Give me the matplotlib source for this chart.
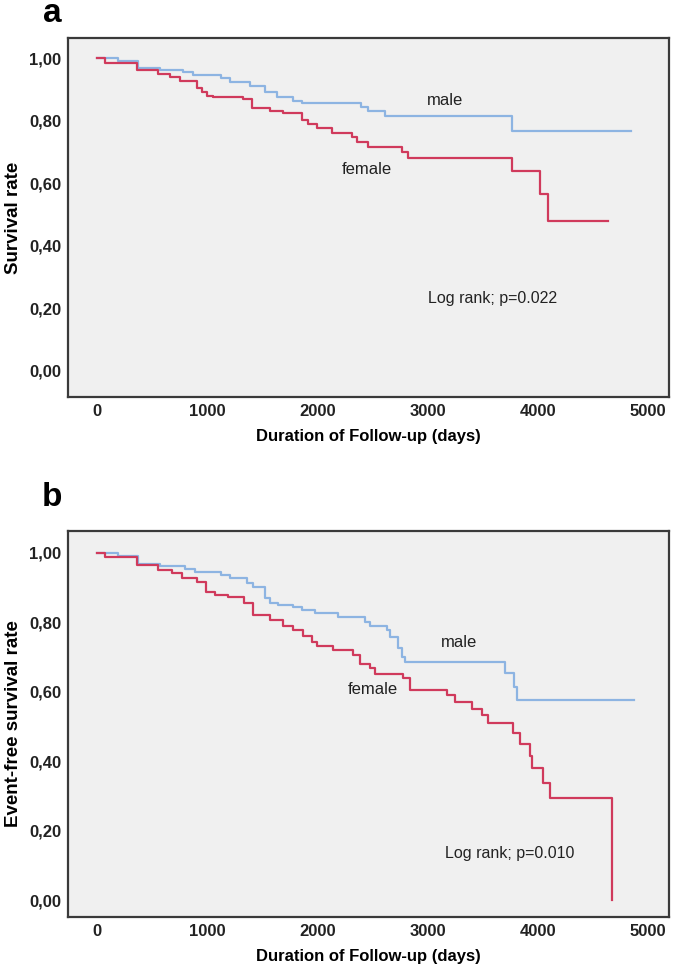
"""Kaplan-Meier curves by sex: overall (a) and event-free (b) survival"""

import matplotlib

matplotlib.use("Agg")
import matplotlib.pyplot as plt

plt.rcParams["font.family"] = ["Liberation Sans", "DejaVu Sans"]

# <><><><><><><><><><><><><><><><><><><><><><><><><><><><><><><><><><><><><><><>
# Data (days, survival fraction)

# Panel a - overall survival
male_a_days = [0, 190, 375, 570, 780, 875, 1130, 1205, 1390, 1525, 1630,
               1780, 1860, 2400, 2460, 2610, 3770, 4850]
male_a_surv = [1.0, 0.991, 0.968, 0.962, 0.955, 0.946, 0.935, 0.922, 0.91,
               0.893, 0.876, 0.862, 0.857, 0.845, 0.831, 0.815, 0.767, 0.767]

female_a_days = [0, 72, 360, 556, 662, 753, 905, 950, 995, 1056, 1328, 1404,
                 1570, 1691, 1857, 1918, 1994, 2130, 2311, 2357, 2462, 2765,
                 2825, 3763, 4020, 4096, 4640]
female_a_surv = [1.0, 0.985, 0.962, 0.949, 0.94, 0.927, 0.905, 0.891, 0.88,
                 0.876, 0.869, 0.841, 0.832, 0.823, 0.802, 0.789, 0.776,
                 0.762, 0.748, 0.733, 0.715, 0.701, 0.68, 0.639, 0.565, 0.48,
                 0.48]

# Panel b - event-free survival
male_b_days = [0, 190, 375, 570, 800, 890, 1130, 1205, 1360, 1420, 1525,
               1570, 1645, 1780, 1860, 1980, 2190, 2430, 2480, 2630, 2660,
               2735, 2765, 2795, 3700, 3780, 3815, 4870]
male_b_surv = [1.0, 0.99, 0.967, 0.962, 0.954, 0.946, 0.937, 0.928, 0.914,
               0.901, 0.87, 0.856, 0.851, 0.844, 0.836, 0.826, 0.816, 0.802,
               0.79, 0.778, 0.759, 0.725, 0.701, 0.687, 0.653, 0.615, 0.576,
               0.576]

female_b_days = [0, 72, 360, 556, 680, 768, 905, 990, 1070, 1190, 1330,
                 1420, 1570, 1690, 1780, 1870, 1950, 2000, 2140, 2327, 2387,
                 2477, 2523, 2780, 2840, 3173, 3249, 3400, 3491, 3551, 3778,
                 3838, 3929, 3944, 4050, 4111, 4670]
female_b_surv = [1.0, 0.988, 0.965, 0.95, 0.943, 0.929, 0.916, 0.886, 0.879,
                 0.873, 0.856, 0.82, 0.806, 0.79, 0.778, 0.761, 0.744, 0.732,
                 0.72, 0.706, 0.679, 0.668, 0.651, 0.639, 0.605, 0.591, 0.569,
                 0.55, 0.533, 0.511, 0.482, 0.45, 0.415, 0.38, 0.338, 0.293,
                 0.0]

x_ticks = [0, 1000, 2000, 3000, 4000, 5000]
y_ticks = [0.0, 0.2, 0.4, 0.6, 0.8, 1.0]
y_tick_labels = ["0,00", "0,20", "0,40", "0,60", "0,80", "1,00"]

# <><><><><><><><><><><><><><><><><><><><><><><><><><><><><><><><><><><><><><><>

blue = "#8db4e2"
red = "#d03a5c"

fig = plt.figure(figsize=(6.77, 9.77), dpi=100)
ax_a = fig.add_axes([0.1004, 0.5937, 0.8877, 0.3674])
ax_b = fig.add_axes([0.1004, 0.0614, 0.8877, 0.3951])


def style_axes(ax, ylim, ylabel):
    ax.set_facecolor("#f0f0f0")
    ax.set_xlim(-263, 5190)
    ax.set_ylim(*ylim)
    ax.set_xticks(x_ticks)
    ax.set_xticklabels([str(t) for t in x_ticks], fontweight="bold")
    ax.set_yticks(y_ticks)
    ax.set_yticklabels(y_tick_labels, fontweight="bold")
    ax.tick_params(length=0, labelsize=12, pad=5, colors="#222222")
    for s in ax.spines.values():
        s.set_color("#3a3a3a")
        s.set_linewidth(1.6)
    ax.set_xlabel("Duration of Follow-up (days)", fontsize=12,
                  fontweight="bold", labelpad=7)
    ax.set_ylabel(ylabel, fontsize=13.5, fontweight="bold", labelpad=5)


# Panel a
ax_a.step(male_a_days, male_a_surv, where="post", color=blue, lw=1.6)
ax_a.step(female_a_days, female_a_surv, where="post", color=red, lw=1.6)
style_axes(ax_a, (-0.083, 1.064), "Survival rate")
ax_a.text(3158, 0.863, "male", ha="center", va="center", fontsize=12,
          color="#222222")
ax_a.text(2450, 0.645, "female", ha="center", va="center", fontsize=12,
          color="#222222")
ax_a.text(3593, 0.233, "Log rank; p=0.022", ha="center", va="center",
          fontsize=11.5, color="#222222")

# Panel b
ax_b.step(male_b_days, male_b_surv, where="post", color=blue, lw=1.6)
ax_b.step(female_b_days, female_b_surv, where="post", color=red, lw=1.6)
style_axes(ax_b, (-0.049, 1.063), "Event-free survival rate")
ax_b.text(3285, 0.742, "male", ha="center", va="center", fontsize=12,
          color="#222222")
ax_b.text(2502, 0.607, "female", ha="center", va="center", fontsize=12,
          color="#222222")
ax_b.text(3748, 0.135, "Log rank; p=0.010", ha="center", va="center",
          fontsize=11.5, color="#222222")

fig.text(52 / 677, 1 - 14 / 977, "a", fontsize=24, fontweight="bold",
         ha="center", va="center")
fig.text(52 / 677, 1 - 498 / 977, "b", fontsize=24, fontweight="bold",
         ha="center", va="center")

fig.savefig("out.png", dpi=100)
